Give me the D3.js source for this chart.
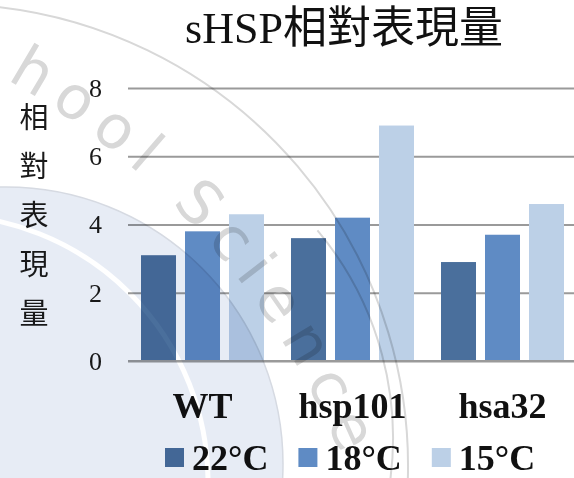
<!DOCTYPE html>
<html>
<head>
<meta charset="utf-8">
<script src="https://cdn.jsdelivr.net/npm/d3@7"></script>
<style>
body { margin: 0; background: #fff; }
svg { display: block; }
</style>
</head>
<body>
<svg id="chart"></svg>
<script>
var categories = ["WT", "hsp101", "hsa32"];
var seriesNames = ["22°C", "18°C", "15°C"];
var values22 = [3.1, 3.6, 2.9];
var values18 = [3.8, 4.2, 3.7];
var values15 = [4.3, 6.9, 4.6];
var yTicks = [0, 2, 4, 6, 8];
var yLabelChars = ["相", "對", "表", "現", "量"];
var seriesColors = ["#4a6f9c", "#5f8bc4", "#bcd0e7"];

var W = 574, H = 478;
var serif = "'Liberation Serif','Times New Roman','Noto Sans CJK TC',serif";
var cjk = "'Noto Sans CJK TC','Noto Sans CJK SC',sans-serif";

var svg = d3.select("#chart").attr("width", W).attr("height", H);
svg.append("rect").attr("width", W).attr("height", H).attr("fill", "#fff");

var x = d3.scaleBand().domain(categories).range([127.5, 577.5]);
var xs = d3.scaleBand().domain(seriesNames).range([0, x.bandwidth()])
    .paddingInner(0.2045).paddingOuter(0.307);
var y = d3.scaleLinear().domain([0, 8]).range([361, 88]);

var rows = categories.map(function(c, i) {
    return {cat: c, vals: [values22[i], values18[i], values15[i]]};
});

// gridlines + y tick labels
var yAxis = svg.append("g")
    .attr("transform", "translate(128,0)")
    .call(d3.axisLeft(y).tickValues(yTicks).tickSize(-446).tickPadding(26).tickFormat(d3.format("d")));
yAxis.select(".domain").remove();
yAxis.selectAll("line").attr("stroke", "#9a9a9a").attr("stroke-width", 1.8);
yAxis.selectAll("text")
    .attr("font-family", serif)
    .attr("font-size", 26)
    .attr("fill", "#1a1a1a");

// bars
var groups = svg.append("g").selectAll("g")
    .data(rows)
    .enter().append("g")
    .attr("transform", function(d) { return "translate(" + x(d.cat) + ",0)"; });

groups.selectAll("rect")
    .data(function(d) { return d.vals.map(function(v, i) { return {s: seriesNames[i], v: v, i: i}; }); })
    .enter().append("rect")
    .attr("x", function(d) { return xs(d.s); })
    .attr("y", function(d) { return y(d.v); })
    .attr("width", xs.bandwidth())
    .attr("height", function(d) { return y(0) - y(d.v); })
    .attr("fill", function(d) { return seriesColors[d.i]; });

// zero line on top of the bars
svg.append("line")
    .attr("x1", 128).attr("x2", 574)
    .attr("y1", y(0)).attr("y2", y(0))
    .attr("stroke", "#9a9a9a").attr("stroke-width", 1.8);

// category labels
var xAxis = svg.append("g")
    .attr("transform", "translate(0," + y(0) + ")")
    .call(d3.axisBottom(x).tickSize(0).tickPadding(31));
xAxis.select(".domain").remove();
xAxis.selectAll("text")
    .attr("font-family", serif)
    .attr("font-size", 36)
    .attr("font-weight", "bold")
    .attr("fill", "#111");

// title
svg.append("text")
    .attr("x", 344)
    .attr("y", 43)
    .attr("text-anchor", "middle")
    .attr("font-family", serif)
    .attr("font-size", 44)
    .attr("fill", "#111")
    .text("sHSP相對表現量");

// y axis title, one character per line
svg.append("g").selectAll("text")
    .data(yLabelChars)
    .enter().append("text")
    .attr("x", 34)
    .attr("y", function(d, i) { return 128 + i * 49; })
    .attr("text-anchor", "middle")
    .attr("font-family", cjk)
    .attr("font-size", 29)
    .attr("fill", "#1a1a1a")
    .text(function(d) { return d; });

// legend
var legend = svg.append("g");
var lx = 165;
seriesNames.forEach(function(s, i) {
    var item = legend.append("g").attr("transform", "translate(" + lx + ",0)");
    item.append("rect")
        .attr("x", 0).attr("y", 448)
        .attr("width", 19).attr("height", 19)
        .attr("fill", seriesColors[i]);
    var t = item.append("text")
        .attr("x", 27).attr("y", 470)
        .attr("font-family", serif)
        .attr("font-size", 36)
        .attr("font-weight", "bold")
        .attr("fill", "#111")
        .text(s);
    lx += 27 + t.node().getComputedTextLength() + 30;
});

// watermark (faint, blended over the chart)
function arcPath(cx, cy, r, a0, a1) {
    var r0 = a0 * Math.PI / 180, r1 = a1 * Math.PI / 180;
    return "M" + (cx + r * Math.cos(r0)) + "," + (cy + r * Math.sin(r0)) +
        " A" + r + "," + r + " 0 0 1 " + (cx + r * Math.cos(r1)) + "," + (cy + r * Math.sin(r1));
}

var defs = svg.append("defs");
var mask = defs.append("mask").attr("id", "stripe")
    .attr("maskUnits", "userSpaceOnUse")
    .attr("x", 0).attr("y", 0).attr("width", W).attr("height", H);
mask.append("rect").attr("width", W).attr("height", H).attr("fill", "#fff");
mask.append("circle")
    .attr("cx", -59).attr("cy", 482).attr("r", 267)
    .attr("fill", "none").attr("stroke", "#000").attr("stroke-width", 5);

var wm = svg.append("g").style("mix-blend-mode", "multiply");
wm.append("circle")
    .attr("cx", 6).attr("cy", 464).attr("r", 277)
    .attr("fill", "#e7ecf5")
    .attr("stroke", "#d6dae2").attr("stroke-width", 1.5)
    .attr("mask", "url(#stripe)");
wm.append("path")
    .attr("d", arcPath(-54, 466, 462, -86, 5))
    .attr("fill", "none").attr("stroke", "#d8d8d8").attr("stroke-width", 2);
wm.append("path")
    .attr("d", arcPath(70, 438, 323, -40, 10))
    .attr("fill", "none").attr("stroke", "#d8d8d8").attr("stroke-width", 2);

// watermark letters, each one rotated along an arc
var wmChars = "hool Science".split("");
var wmC = {x: -371, y: 753, r: 772, a0: -62, offset: 17, gap: 12};
var s = wmC.offset;
wmChars.forEach(function(ch) {
    var t = wm.append("text")
        .attr("font-family", "'DejaVu Sans',sans-serif")
        .attr("font-size", 60)
        .attr("fill", "#d8d8d8")
        .attr("text-anchor", "middle")
        .text(ch === " " ? "\u00a0" : ch);
    var w = t.node().getComputedTextLength();
    var a = wmC.a0 * Math.PI / 180 + (s + w / 2) / wmC.r;
    var px = wmC.x + wmC.r * Math.cos(a), py = wmC.y + wmC.r * Math.sin(a);
    t.attr("transform", "translate(" + px + "," + py + ") rotate(" + (a * 180 / Math.PI + 90) + ")");
    if (ch === " ") t.remove();
    s += w + wmC.gap;
});
</script>
</body>
</html>
